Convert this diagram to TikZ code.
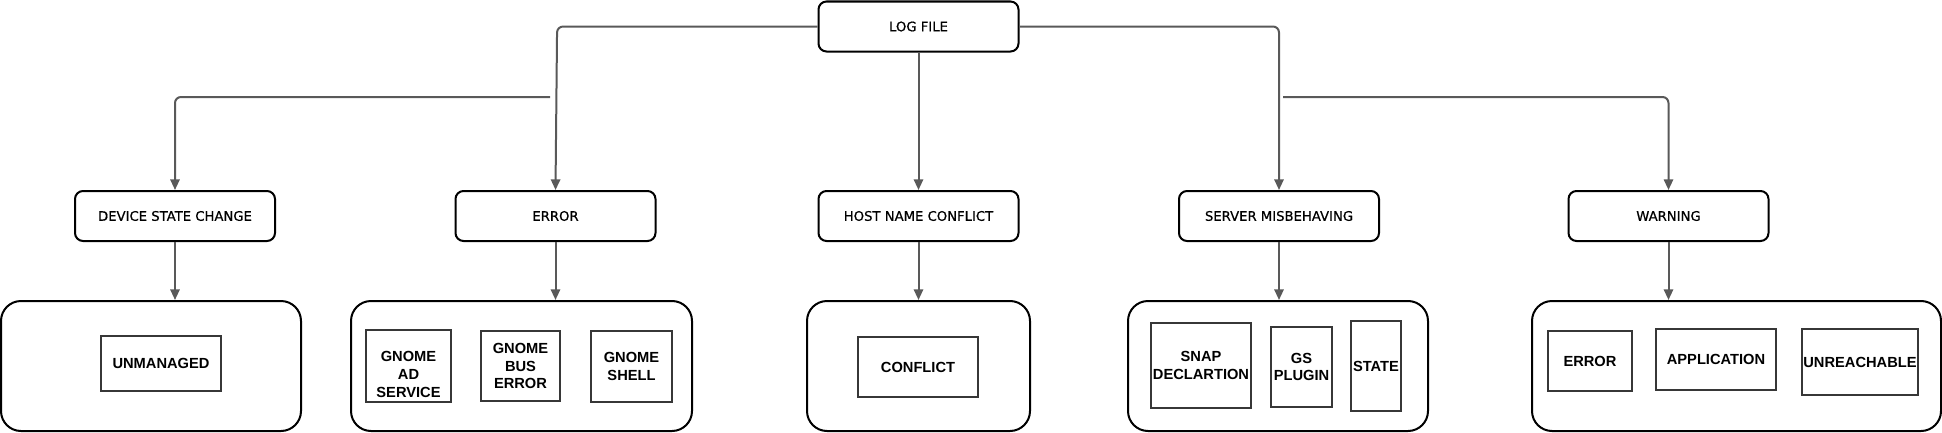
\documentclass[tikz,border=0pt]{standalone}
\usepackage{fontspec}
\setmainfont{Liberation Sans}
\newfontfamily\midfont[BoldFont={DejaVu Sans}, BoldFeatures={FakeBold=0.6}]{DejaVu Sans}
\usetikzlibrary{arrows.meta}
\definecolor{conncol}{RGB}{89,89,89}
\definecolor{inbcol}{RGB}{55,55,55}
\begin{document}
\begin{tikzpicture}[x=0.75pt,y=-0.75pt,
  midbox/.style={draw=black, line width=1.5pt, rounded corners=6pt, minimum width=150pt, minimum height=37.5pt, inner sep=0pt, font=\midfont\bfseries\fontsize{9.9}{12}\selectfont},
  grp/.style={draw=black, line width=1.5pt, rounded corners=15pt, minimum height=97.5pt, inner sep=0pt},
  inbox/.style={draw=inbcol, line width=1pt, inner sep=0pt, align=center, font=\bfseries\fontsize{11}{13.3}\selectfont},
  txt/.style={inner sep=0pt, align=center, font=\bfseries\fontsize{11}{13.3}\selectfont},
  sz/.style 2 args={minimum width=#1*0.75pt, minimum height=#2*0.75pt},
  link/.style={draw=conncol, line width=1.5pt, rounded corners=4.5pt, -{Triangle[length=8pt,width=7pt]}}
]
\useasboundingbox (0,0) rectangle (1942,432);

% top
\node[midbox] (log) at (918.5,26.5) {LOG FILE};

% middle row
\node[midbox] (dev)  at (175,216)    {DEVICE STATE CHANGE};
\node[midbox] (err)  at (555.5,216)  {ERROR};
\node[midbox] (host) at (918.5,216)  {HOST NAME CONFLICT};
\node[midbox] (srv)  at (1279,216)   {SERVER MISBEHAVING};
\node[midbox] (warn) at (1668.5,216) {WARNING};

% containers
\node[grp, minimum width=225pt]    (c1) at (151,366)    {};
\node[grp, minimum width=255.75pt] (c2) at (521.5,366)  {};
\node[grp, minimum width=167.25pt] (c3) at (918.5,366)  {};
\node[grp, minimum width=225pt]    (c4) at (1278,366)   {};
\node[grp, minimum width=306.75pt] (c5) at (1736.5,366) {};

% inner boxes
\node[inbox, sz={120}{55}] (unm) at (161,363.5) {UNMANAGED};
\node[inbox, sz={85}{72}]  (gad) at (408.5,366) {};
\node[txt] (gadt) at (408.5,374.5) {GNOME\\AD\\SERVICE};
\node[inbox, sz={79}{70}]  (gbus) at (520.5,366) {GNOME\\BUS\\ERROR};
\node[inbox, sz={81}{71}]  (gsh) at (631.5,366.5) {GNOME\\SHELL};
\node[inbox, sz={120}{60}] (conf) at (918,367) {CONFLICT};
\node[inbox, sz={100}{85}] (snap) at (1201,365.5) {SNAP\\DECLARTION};
\node[inbox, sz={61}{80}]  (gsp) at (1301.5,367) {GS\\PLUGIN};
\node[inbox, sz={50}{90}]  (state) at (1376,366) {STATE};
\node[inbox, sz={84}{60}]  (werr) at (1590,361) {ERROR};
\node[inbox, sz={120}{61}] (app) at (1716,359.5) {APPLICATION};
\node[inbox, sz={116}{66}] (unr) at (1860,362) {UNREACHABLE};

% connectors from LOG FILE
\draw[link] (log.west) -- ([xshift=1.2pt]err.north |- log.west) -- (err.north);
\draw[link] (log.east) -| (srv.north);
\draw[link] (log.south) -- (host.north);

\coordinate (j1) at (550,97);
\coordinate (j2) at (1283,97);
\draw[link] (j1) -| (dev.north);
\draw[link] (j2) -| (warn.north);

% middle to containers
\draw[link] (dev.south)  -- (dev.south  |- c1.north);
\draw[link] (err.south)  -- (err.south  |- c2.north);
\draw[link] (host.south) -- (host.south |- c3.north);
\draw[link] (srv.south)  -- (srv.south  |- c4.north);
\draw[link] (warn.south) -- (warn.south |- c5.north);
\end{tikzpicture}
\end{document}
